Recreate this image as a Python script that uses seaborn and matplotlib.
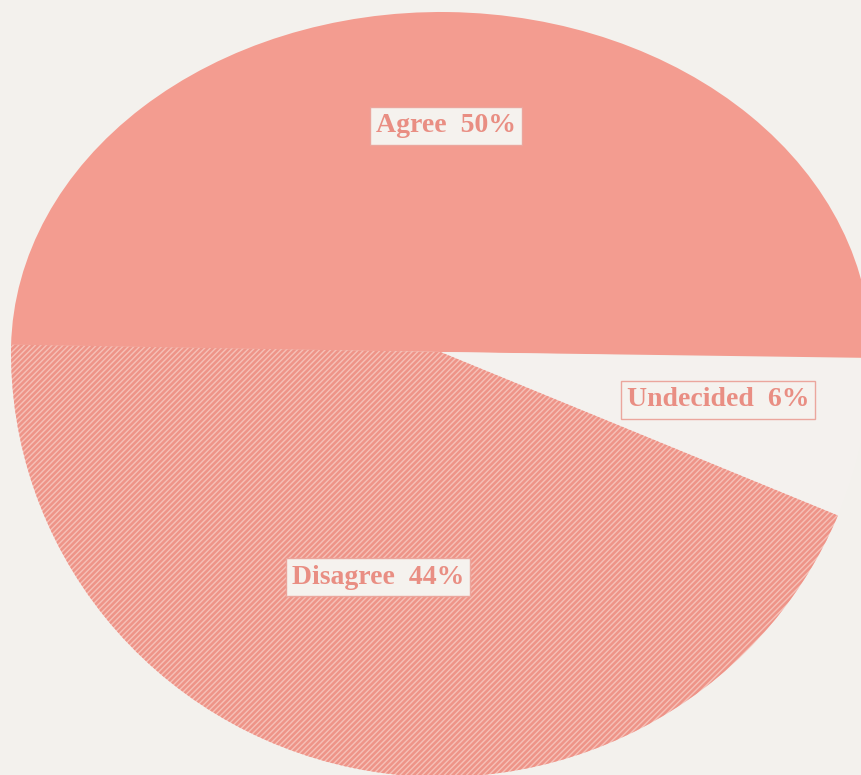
import matplotlib
matplotlib.use("Agg")
import matplotlib.pyplot as plt
import seaborn as sns

categories = ["Agree", "Disagree", "Undecided"]
values = [50, 44, 6]
labels = ["Agree  50%", "Disagree  44%", "Undecided  6%"]

sns.set_theme(style="white")
plt.rcParams["font.family"] = ["Liberation Serif", "DejaVu Serif"]
plt.rcParams["hatch.linewidth"] = 1.8

bg = "#F3F1ED"
W, H = 862, 775
fig = plt.figure(figsize=(W / 100, H / 100), dpi=100, facecolor=bg)

face = ["#F39C90", "#F6C0B7", "#F4F1EE"]
cx, cy, rx = 441, 352, 430
# the scanned pie is squashed more above its centre than below it
halves = [("top", 340, {"Agree"}), ("bottom", 425, {"Disagree", "Undecided"})]

for name, ry, show in halves:
    ax = fig.add_axes([0, 0, 1, 1], label=name)
    ax.patch.set_alpha(0)
    wedges, _ = ax.pie(values, startangle=-1, counterclock=True, colors=face,
                       wedgeprops=dict(linewidth=0))
    for w, cat in zip(wedges, categories):
        w.set_visible(cat in show)
        if cat == "Disagree":
            w.set_hatch("/" * 6)
            w.set_edgecolor("#EE9488")
            w.set_linewidth(0)
    ax.set_aspect("auto")
    ax.set_xlim(-cx / rx, (W - cx) / rx)
    ax.set_ylim(-(H - cy) / ry, cy / ry)
    ax.axis("off")

txt_color = "#E98E83"
pos = {"Agree": (446, 126), "Disagree": (378, 577), "Undecided": (718, 400)}
for cat, lab in zip(categories, labels):
    px, py = pos[cat]
    fig.text(px / W, 1 - py / H, lab, ha="center", va="center",
             fontsize=20, fontweight="bold", color=txt_color, zorder=10,
             bbox=dict(boxstyle="square,pad=0.22", fc="#F5F2EE", ec="#EBA69D", lw=1))

fig.savefig("out.png", dpi=100, facecolor=bg)
